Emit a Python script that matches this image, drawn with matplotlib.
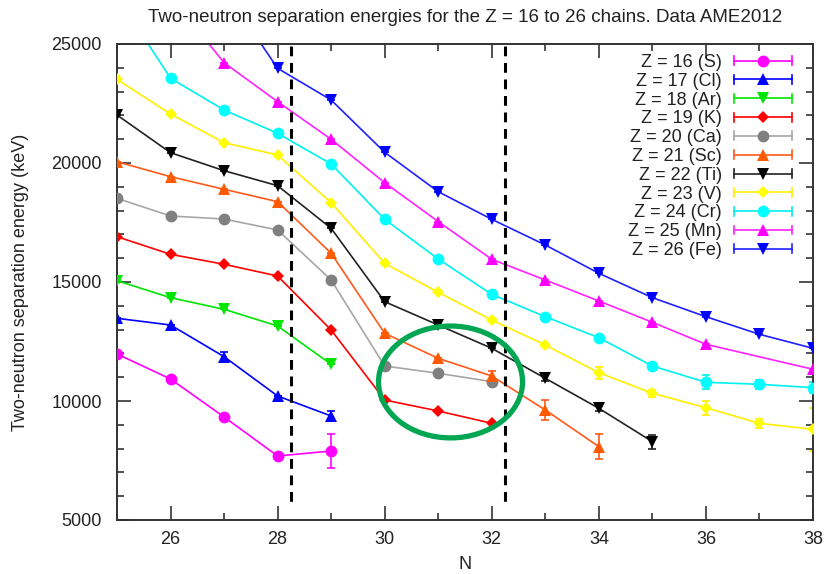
import matplotlib
matplotlib.use("Agg")
import matplotlib.pyplot as plt
from matplotlib.lines import Line2D
from matplotlib.legend_handler import HandlerBase
from matplotlib.patches import Ellipse
from matplotlib.ticker import MultipleLocator

plt.rcParams['font.family'] = ['Liberation Sans', 'DejaVu Sans']

# ---------------- data ----------------
labels = ["Z = 16 (S)", "Z = 17 (Cl)", "Z = 18 (Ar)", "Z = 19 (K)", "Z = 20 (Ca)",
          "Z = 21 (Sc)", "Z = 22 (Ti)", "Z = 23 (V)", "Z = 24 (Cr)", "Z = 25 (Mn)",
          "Z = 26 (Fe)"]

N_S = [25, 26, 27, 28, 29]
S2n_S = [11975, 10924, 9328, 7689, 7900]
err_S = [0, 0, 0, 0, 700]

N_Cl = [25, 26, 27, 28, 29]
S2n_Cl = [13475, 13193, 11862, 10210, 9370]
err_Cl = [0, 0, 200, 0, 230]

N_Ar = [25, 26, 27, 28, 29]
S2n_Ar = [15055, 14340, 13853, 13151, 11542]
err_Ar = [0, 0, 0, 0, 0]

N_K = [25, 26, 27, 28, 29, 30, 31, 32]
S2n_K = [16904, 16164, 15744, 15252, 12983, 10042, 9580, 9063]
err_K = [0, 0, 0, 0, 0, 0, 0, 0]

N_Ca = [25, 26, 27, 28, 29, 30, 31, 32]
S2n_Ca = [18517, 17773, 17647, 17185, 15084, 11470, 11165, 10812]
err_Ca = [0, 0, 0, 0, 0, 0, 0, 0]

N_Sc = [25, 26, 27, 28, 29, 30, 31, 32, 33, 34]
S2n_Sc = [20055, 19425, 18895, 18375, 16205, 12845, 11793, 11050, 9622, 8081]
err_Sc = [0, 0, 0, 0, 0, 0, 0, 230, 400, 530]

N_Ti = [25, 26, 27, 28, 29, 30, 31, 32, 33, 34, 35]
S2n_Ti = [22017, 20433, 19677, 19046, 17255, 14173, 13193, 12214, 10954, 9693, 8291]
err_Ti = [0, 0, 0, 0, 0, 0, 0, 0, 120, 100, 290]

N_V = [25, 26, 27, 28, 29, 30, 31, 32, 33, 34, 35, 36, 37, 38]
S2n_V = [23517, 22059, 20854, 20336, 18333, 15785, 14567, 13403, 12353, 11190,
         10324, 9720, 9062, 8810]
err_V = [0, 0, 0, 0, 0, 0, 0, 0, 0, 250, 150, 290, 200, 900]

N_Cr = [25, 26, 27, 28, 29, 30, 31, 32, 33, 34, 35, 36, 37, 38]
S2n_Cr = [27000, 23559, 22227, 21248, 19958, 17634, 15966, 14483, 13542, 12660,
          11471, 10786, 10702, 10560]
err_Cr = [0, 0, 0, 0, 0, 0, 0, 0, 0, 0, 120, 300, 200, 220]

N_Mn = [26, 27, 28, 29, 30, 31, 32, 33, 34, 35, 36, 38]
S2n_Mn = [27000, 24215, 22576, 20996, 19172, 17538, 15954, 15084, 14202, 13307,
          12382, 11332]
err_Mn = [0, 0, 0, 0, 0, 0, 0, 0, 0, 0, 0, 0]

N_Fe = [27, 28, 29, 30, 31, 32, 33, 34, 35, 36, 37, 38]
S2n_Fe = [27300, 23979, 22647, 20450, 18794, 17634, 16555, 15366, 14342, 13542,
          12802, 12214]
err_Fe = [0, 0, 0, 0, 0, 0, 0, 0, 0, 0, 0, 0]

shell_lines = [28.25, 32.25]

# ---------------- styles ----------------
series = [
    (N_S, S2n_S, err_S, '#FF00FF', '#FF00FF', 'o', 8.5),
    (N_Cl, S2n_Cl, err_Cl, '#0000FF', '#0000FF', '^', 8),
    (N_Ar, S2n_Ar, err_Ar, '#00E600', '#00E600', 'v', 8),
    (N_K, S2n_K, err_K, '#FF0000', '#FF0000', 'D', 6),
    (N_Ca, S2n_Ca, err_Ca, '#A6A6A6', '#808080', 'o', 8.5),
    (N_Sc, S2n_Sc, err_Sc, '#FF5A1A', '#FF5A00', '^', 8),
    (N_Ti, S2n_Ti, err_Ti, '#222222', '#000000', 'v', 8),
    (N_V, S2n_V, err_V, '#FFEE00', '#FFFF00', 'D', 6),
    (N_Cr, S2n_Cr, err_Cr, '#00F0F0', '#00FFFF', 'o', 8.5),
    (N_Mn, S2n_Mn, err_Mn, '#FF22FF', '#FF00FF', '^', 8),
    (N_Fe, S2n_Fe, err_Fe, '#2020FF', '#0000FF', 'v', 8),
]


class CapHandler(HandlerBase):
    def create_artists(self, legend, orig_handle, xdescent, ydescent, width,
                       height, fontsize, trans):
        y = height / 2.0 - ydescent
        x0 = -xdescent
        x1 = x0 + width
        c = height * 0.35
        col = orig_handle.get_color()
        mfc = orig_handle.get_markerfacecolor()
        arts = [
            Line2D([x0, x1], [y, y], color=col, lw=1.2),
            Line2D([x0, x0], [y - c, y + c], color=col, lw=1.2),
            Line2D([x1, x1], [y - c, y + c], color=col, lw=1.2),
            Line2D([(x0 + x1) / 2.0], [y], marker=orig_handle.get_marker(),
                   markersize=orig_handle.get_markersize(), color=mfc,
                   markeredgewidth=0, linestyle='none'),
        ]
        for a in arts:
            a.set_transform(trans)
        return arts


fig = plt.figure(figsize=(8.25, 5.74), dpi=100)
ax = fig.add_axes([117 / 825, 1 - 520 / 574, (813 - 117) / 825, (520 - 44) / 574])

handles = []
for (n, s, e, lc, mc, mk, ms), lab in zip(series, labels):
    ax.errorbar(n, s, yerr=e, color=lc, lw=1.2, ecolor=lc, elinewidth=1.2,
                capsize=2.6, capthick=1.2, linestyle='none', zorder=2)
    ax.plot(n, s, color=lc, lw=1.2, zorder=2)
    ax.plot(n, s, linestyle='none', marker=mk, markersize=ms, color=mc,
            markeredgewidth=0, zorder=3)
    handles.append(Line2D([], [], color=lc, marker=mk, markersize=ms,
                          markerfacecolor=mc, label=lab))

for xv in shell_lines:
    ax.plot([xv, xv], [24900, 5550], color='black', lw=2.2,
            linestyle=(0, (3.2, 2.2)), zorder=4)

ell = Ellipse((31.23, 10800), 2.69, 4700, fill=False, edgecolor='#00A651',
              lw=3.8, zorder=5)
ax.add_patch(ell)

ax.set_xlim(25, 38)
ax.set_ylim(5000, 25000)
ax.xaxis.set_major_locator(MultipleLocator(2))
ax.xaxis.set_minor_locator(MultipleLocator(1))
ax.yaxis.set_major_locator(MultipleLocator(5000))
ax.yaxis.set_minor_locator(MultipleLocator(1000))
ax.tick_params(which='both', direction='in', top=True, right=True,
               colors='#222222', width=1.1)
ax.tick_params(which='major', length=10)
ax.tick_params(which='minor', length=5)
ax.tick_params(axis='y', which='major', pad=11, labelsize=13, labelcolor='#222222')
ax.tick_params(axis='x', which='major', pad=8, labelsize=13, labelcolor='#222222')
for sp in ax.spines.values():
    sp.set_linewidth(1.4)
    sp.set_color('#333333')

ax.set_xlabel('N', fontsize=13, color='#222222', labelpad=6)
ax.set_ylabel('Two-neutron separation energy (keV)', fontsize=13, color='#222222',
              labelpad=16)
ax.set_title('Two-neutron separation energies for the Z = 16 to 26 chains. Data AME2012',
             fontsize=13.5, color='#222222', pad=16)

leg = ax.legend(handles=handles, loc='upper right',
                bbox_to_anchor=(0.97, 0.979), frameon=False, markerfirst=False,
                fontsize=13, labelspacing=0.1, handlelength=3.2,
                handletextpad=0.7, borderpad=0, borderaxespad=0,
                handler_map={Line2D: CapHandler()})
for t in leg.get_texts():
    t.set_color('#222222')

fig.savefig('out.png', dpi=100)
